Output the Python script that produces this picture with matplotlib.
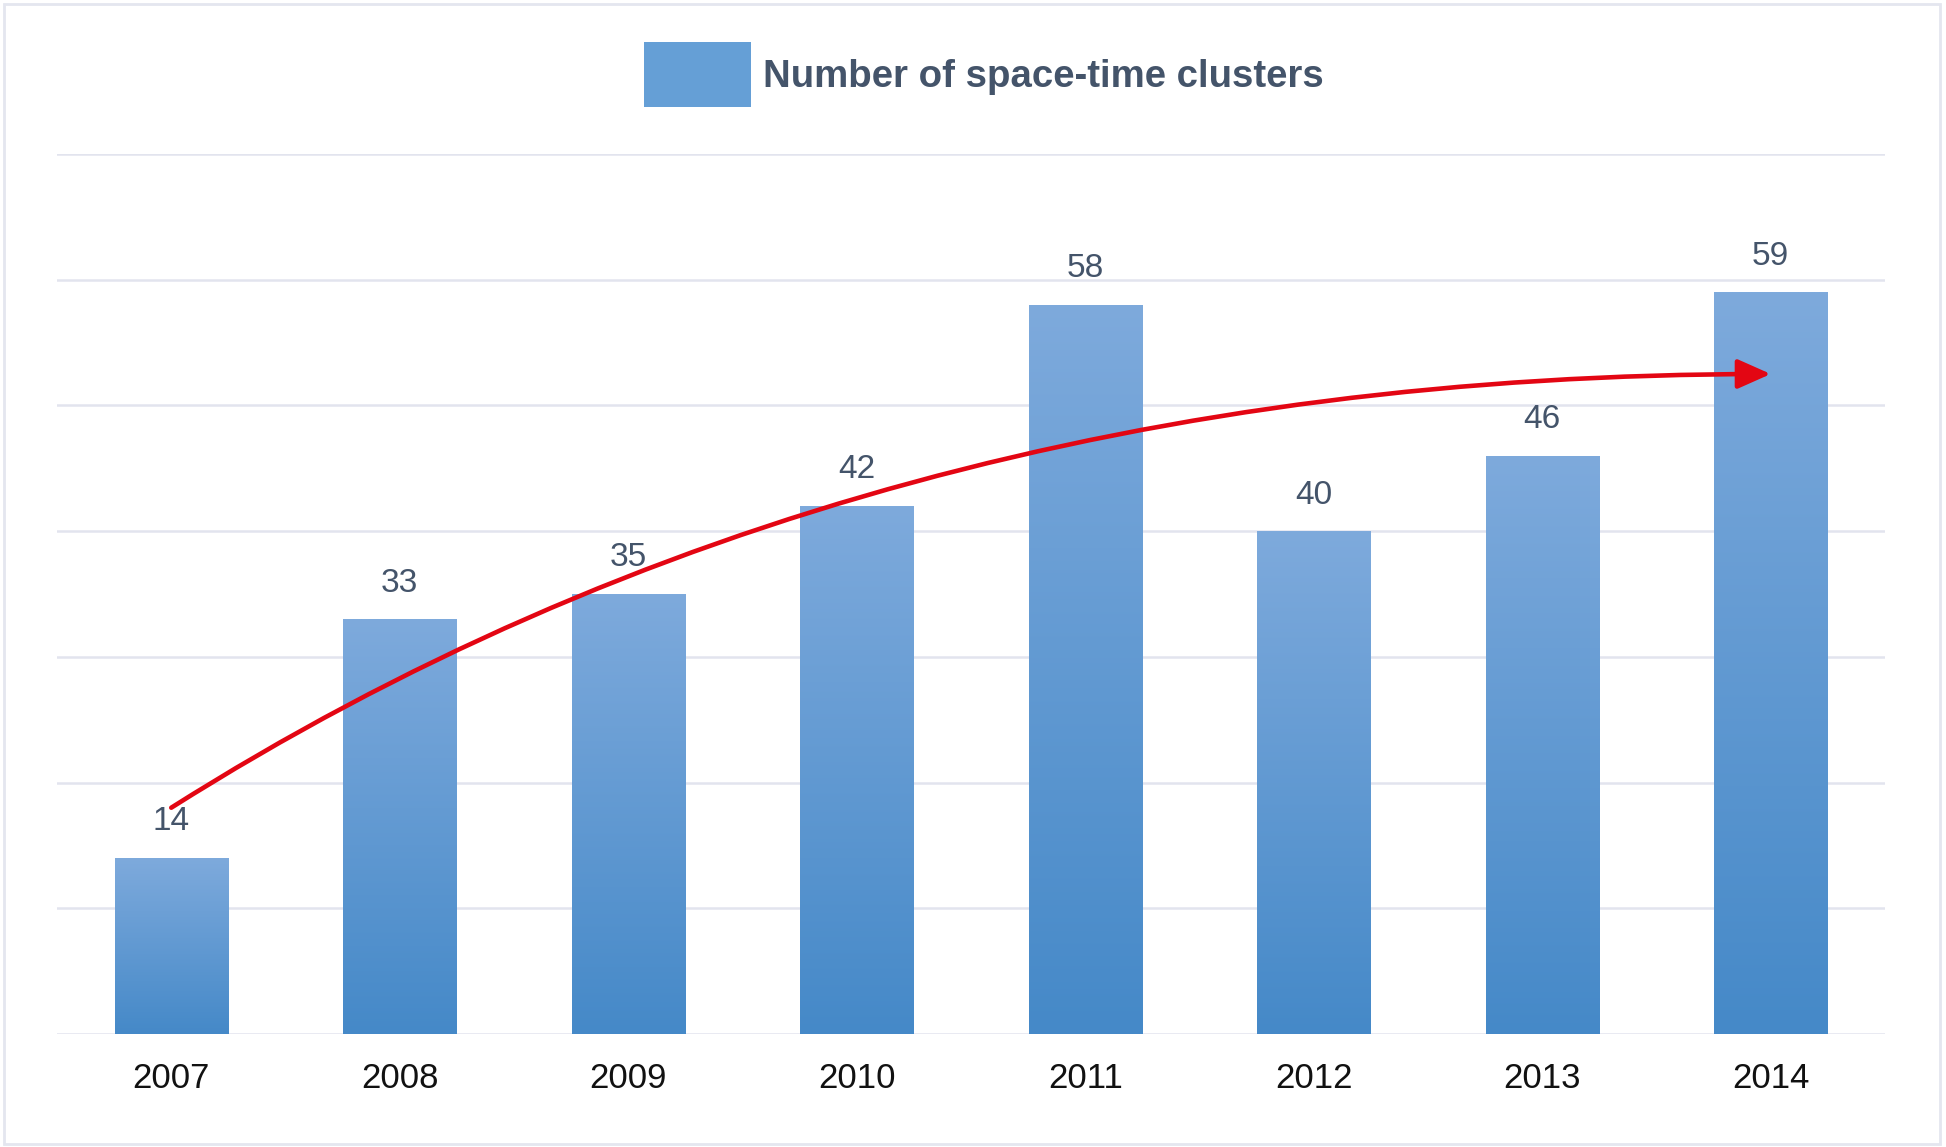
import numpy as np
import matplotlib
matplotlib.use("Agg")
import matplotlib.pyplot as plt
from matplotlib.patches import Rectangle, FancyArrowPatch, Path
from matplotlib.colors import LinearSegmentedColormap

years = ["2007", "2008", "2009", "2010", "2011", "2012", "2013", "2014"]
clusters = [14, 33, 35, 42, 58, 40, 46, 59]
series_name = "Number of space-time clusters"
# trend arrow: start, control, end (data coords)
trend_pts = [(0.0, 18.0), (3.0, 52.5), (7.0, 52.5)]

plt.rcParams['font.family'] = ['Liberation Sans', 'DejaVu Sans']

W, H = 1946, 1147
fig = plt.figure(figsize=(W / 100, H / 100), dpi=100)
ax = fig.add_axes([57 / W, (H - 1034) / H, (1885 - 57) / W, (1034 - 154) / H])

x = np.arange(len(years))
bars = ax.bar(x, clusters, width=0.495, color="none", edgecolor="none", zorder=2)

cmap = LinearSegmentedColormap.from_list("g", ["#4589c8", "#7eaadc"])
grad = np.linspace(0, 1, 256).reshape(-1, 1)
for b in bars:
    x0, w, h = b.get_x(), b.get_width(), b.get_height()
    im = ax.imshow(grad, cmap=cmap, origin="lower", aspect="auto",
                   extent=[x0, x0 + w, 0, h], zorder=2, interpolation="bilinear")
    im.set_clip_path(b)

ax.set_xlim(-0.5, len(years) - 0.5)
ax.set_ylim(0, 70)
ax.set_yticks(np.arange(0, 71, 10))
ax.yaxis.grid(True, color="#e2e4ee", linewidth=1.8)
ax.set_axisbelow(True)
for s in ax.spines.values():
    s.set_visible(False)
ax.tick_params(axis="y", left=False, labelleft=False)
ax.tick_params(axis="x", bottom=False, pad=17, labelsize=25, labelcolor="#111111")
ax.set_xticks(x)
ax.set_xticklabels(years)

for xi, v in zip(x, clusters):
    ax.annotate(str(v), (xi, v), xytext=(0, 26), textcoords="offset points",
                ha="center", va="center", fontsize=24, color="#44546a")

# trend arrow
path = Path(trend_pts, [Path.MOVETO, Path.CURVE3, Path.CURVE3])
arr = FancyArrowPatch(path=path, arrowstyle="-|>,head_length=1.35,head_width=0.6",
                      mutation_scale=15, color="#e30613", linewidth=3.3, zorder=5)
ax.add_patch(arr)

# legend
fig.patches.append(Rectangle((644 / W, (H - 107) / H), 107 / W, 65 / H,
                             transform=fig.transFigure, facecolor="#659fd6",
                             edgecolor="none"))
fig.text(763 / W, (H - 77) / H, series_name, fontsize=27.6, fontweight="bold",
         color="#44546a", ha="left", va="center")

# outer border
fig.patches.append(Rectangle((4 / W, 3 / H), (W - 10) / W, (H - 7) / H,
                             transform=fig.transFigure, facecolor="none",
                             edgecolor="#e4e6ef", linewidth=2))

fig.savefig("out.png", dpi=100)
